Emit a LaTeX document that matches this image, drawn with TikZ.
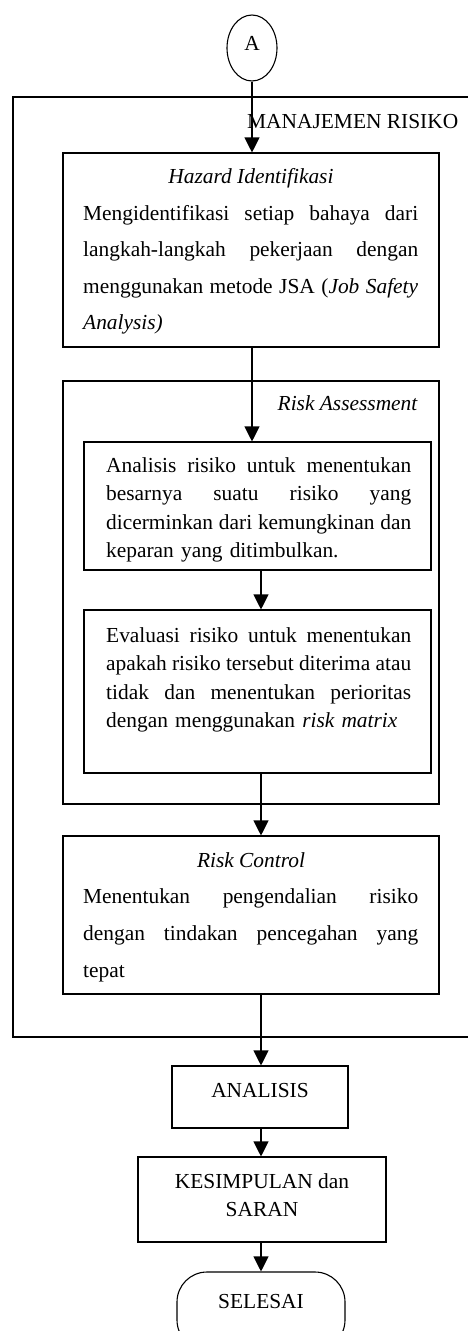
\documentclass[tikz,border=0pt]{standalone}
\usepackage{fontspec}
\setmainfont{Liberation Serif}
\usetikzlibrary{arrows.meta,shapes.geometric}
\newcommand\jA[1]{\leavevmode\hbox to 335pt{#1}}
\newcommand\jB[1]{\leavevmode\hbox to 305pt{#1}}
\begin{document}
\begin{tikzpicture}[x=1pt,y=-1pt,
  box/.style={draw,line width=1.1pt,inner sep=0pt},
  arr/.style={line width=1.1pt,-{Triangle[length=15pt,width=15pt]}},
  txt/.style={inner sep=0pt,font=\fontsize{21.4}{25}\selectfont},
  blockA/.style={inner sep=0pt,anchor=base west,text width=335pt,align=left,font=\fontsize{21.4}{36.5}\selectfont},
  blockB/.style={inner sep=0pt,anchor=base west,text width=305pt,align=left,font=\fontsize{21.4}{28.5}\selectfont}]
\useasboundingbox (0,0) rectangle (468,1331);
% start connector
\node[draw,ellipse,line width=1.1pt,minimum width=50pt,minimum height=66pt,inner sep=0pt,
      font=\fontsize{21.4}{25}\selectfont,text height=14pt,text depth=10pt] (A) at (252,48) {A};
% outer frame (open on the right edge)
\draw[line width=1.1pt] (468,97) -- (13,97) -- (13,1037) -- (468,1037);
\node[txt,anchor=base west] (mr) at (247,128) {MANAJEMEN RISIKO};
% boxes
\node[box,minimum width=376pt,minimum height=194pt] (haz) at (251,250) {};
\node[box,minimum width=376pt,minimum height=423pt] (ra) at (251,592.5) {};
\node[box,minimum width=347pt,minimum height=128pt] (ana) at (257.5,506) {};
\node[box,minimum width=347pt,minimum height=163pt] (eva) at (257.5,691.5) {};
\node[box,minimum width=376pt,minimum height=158pt] (ctl) at (251,915) {};
\node[box,minimum width=176pt,minimum height=62pt] (anl) at (260,1097) {};
\node[box,minimum width=248pt,minimum height=85pt] (kes) at (262,1199.5) {};
\node[box,rounded corners=30pt,minimum width=168pt,minimum height=78pt] (sel) at (261,1311) {};
% texts
\node[txt,anchor=base] (hazt) at (251,183) {\textit{Hazard Identifikasi}};
\node[blockA] (hazb) at (83,220) {\jA{Mengidentifikasi\hfill setiap\hfill bahaya\hfill dari}\\
\jA{langkah-langkah\hfill pekerjaan\hfill dengan}\\
\jA{menggunakan\hfill metode\hfill JSA\hfill (\textit{Job\hfill Safety}}\\
\textit{Analysis)}};
\node[txt,anchor=base east] (rat) at (418,410) {\textit{Risk Assessment}};
\node[blockB] (anab) at (106,472) {\jB{Analisis\hfill risiko\hfill untuk\hfill menentukan}\\
\jB{besarnya\hfill suatu\hfill risiko\hfill yang}\\
\jB{dicerminkan\hfill dari\hfill kemungkinan\hfill dan}\\
keparan yang ditimbulkan.};
\node[blockB] (evab) at (106,642) {\jB{Evaluasi\hfill risiko\hfill untuk\hfill menentukan}\\
\jB{apakah\hfill risiko\hfill tersebut\hfill diterima\hfill atau}\\
\jB{tidak\hfill dan\hfill menentukan\hfill perioritas}\\
dengan menggunakan \textit{risk matrix}};
\node[txt,anchor=base] (ctlt) at (251,867) {\textit{Risk Control}};
\node[blockA,font=\fontsize{21.4}{37}\selectfont] (ctlb) at (83,903) {\jA{Menentukan\hfill pengendalian\hfill risiko}\\
\jA{dengan\hfill tindakan\hfill pencegahan\hfill yang}\\
tepat};
\node[txt,anchor=base] (anlt) at (260,1097) {ANALISIS};
\node[txt,anchor=base,align=center,font=\fontsize{21.4}{28}\selectfont] (kest) at (262,1216) {KESIMPULAN dan\\SARAN};
\node[txt,anchor=base] (selt) at (261,1308) {SELESAI};
% connectors
\coordinate (cx) at (261,0);
\draw[arr] (A.south) -- (A.south |- haz.north);
\draw[arr] (haz.south -| A.south) -- (ana.north -| A.south);
\draw[arr] (ana.south -| cx) -- (eva.north -| cx);
\draw[arr] (eva.south -| cx) -- (ctl.north -| cx);
\draw[arr] (ctl.south -| cx) -- (anl.north -| cx);
\draw[arr] (anl.south -| cx) -- (kes.north -| cx);
\draw[arr] (kes.south -| cx) -- (sel.north -| cx);
\end{tikzpicture}
\end{document}
